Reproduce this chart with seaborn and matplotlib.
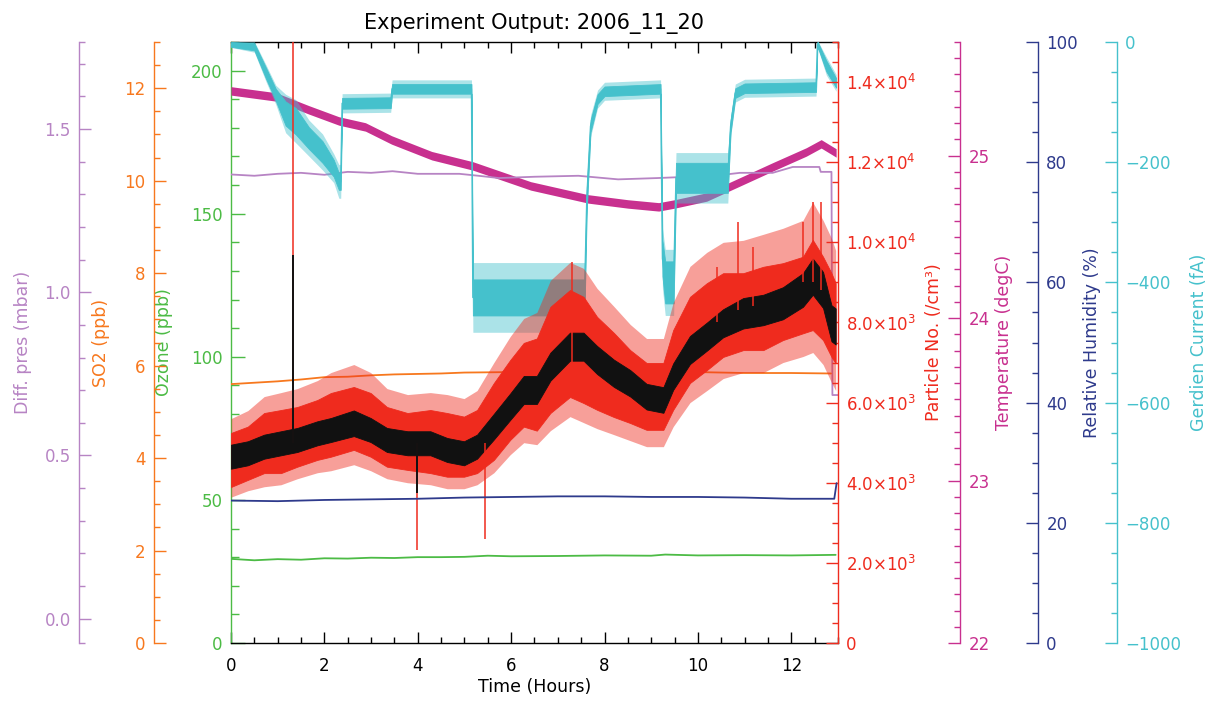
import numpy as np
import matplotlib
matplotlib.use("Agg")
import matplotlib.pyplot as plt
import seaborn as sns
from matplotlib.ticker import MultipleLocator, FixedLocator, FuncFormatter

# ---------------- data ----------------
title = "Experiment Output: 2006_11_20"
x_label = "Time (Hours)"

# Ozone (ppb)
t_ozone = [0.0, 0.5, 1.0, 1.5, 2.0, 2.5, 3.0, 3.5, 4.0, 4.5, 5.0, 5.5, 6.0, 7.0, 8.0, 9.0, 9.3, 10.0, 11.0, 12.0, 12.95]
ozone = [29.4, 28.9, 29.3, 29.1, 29.6, 29.5, 29.8, 29.7, 30.0, 30.0, 30.1, 30.5, 30.3, 30.4, 30.6, 30.5, 30.9, 30.6, 30.7, 30.6, 30.8]

# SO2 (ppb)
t_so2 = [0.0, 0.5, 1.0, 1.5, 2.0, 2.5, 3.0, 3.5, 4.0, 4.5, 5.0, 6.0, 7.0, 8.0, 9.0, 10.0, 11.0, 12.0, 12.85]
so2 = [5.60, 5.63, 5.66, 5.70, 5.75, 5.76, 5.79, 5.81, 5.82, 5.83, 5.85, 5.86, 5.86, 5.85, 5.84, 5.86, 5.84, 5.84, 5.83]

# Relative humidity (%)
t_rh = [0.0, 1.0, 2.0, 3.0, 4.0, 5.0, 6.0, 7.0, 8.0, 9.0, 10.0, 11.0, 12.0, 12.92, 12.97]
rh = [23.7, 23.6, 23.8, 23.9, 24.0, 24.2, 24.3, 24.4, 24.4, 24.3, 24.3, 24.2, 24.0, 24.0, 26.6]

# Differential pressure (mbar)
t_dp = [0.0, 0.5, 1.0, 1.5, 2.0, 2.5, 3.0, 3.46, 4.0, 4.89, 5.3, 5.74, 6.5, 7.44, 8.29, 9.13,
        9.8, 10.54, 10.9, 11.6, 12.03, 12.6, 12.63, 12.86, 12.88, 13.0]
dp = [1.361, 1.357, 1.363, 1.366, 1.360, 1.369, 1.366, 1.371, 1.363, 1.363, 1.357, 1.350, 1.354, 1.357,
      1.346, 1.350, 1.354, 1.360, 1.366, 1.366, 1.384, 1.384, 1.369, 1.369, 0.685, 0.685]

# Temperature (degC): centre of the noisy band and its half width
t_temp = [0.0, 0.96, 1.67, 2.31, 2.88, 3.44, 4.3, 5.18, 6.42, 7.65, 8.5, 9.16, 9.5, 10.19, 10.9, 11.6, 12.32, 12.64, 12.96]
temp = [25.399, 25.362, 25.282, 25.214, 25.177, 25.097, 25.0, 24.937, 24.814, 24.734, 24.703, 24.685,
        24.703, 24.746, 24.839, 24.931, 25.023, 25.073, 25.017]
temp_hw = 0.026

# Gerdien current (fA): centre, dense half width and spike half width
t_gc = [0.0, 0.5, 0.75, 0.96, 1.17, 1.39, 1.67, 1.96, 2.20, 2.31, 2.35, 2.38, 3.42, 3.45, 5.15, 5.18,
        7.57, 7.62, 7.70, 7.85, 8.0, 9.20, 9.24, 9.30, 9.48, 9.53, 10.64, 10.70, 10.80, 11.0, 12.53,
        12.56, 12.75, 12.96]
gc_mid = [-4, -8, -52, -88, -119, -132, -160, -183, -210, -232, -232, -102, -101, -78, -78, -425,
          -425, -260, -140, -95, -82, -78, -360, -400, -400, -226, -226, -140, -85, -77, -75,
          -3, -40, -68]
gc_hw = [4, 6, 9, 10, 20, 22, 18, 18, 14, 14, 14, 9, 9, 8, 8, 30,
         30, 18, 10, 8, 8, 8, 30, 35, 35, 25, 25, 10, 8, 8, 8,
         4, 9, 8]
gc_tip = [5, 9, 14, 16, 32, 36, 30, 30, 24, 28, 28, 16, 16, 15, 15, 58,
          58, 30, 18, 15, 15, 15, 50, 55, 55, 42, 42, 18, 15, 15, 15,
          6, 15, 14]

# Particle number (/cm3): raw envelope (red), spike extent, smoothed band (black)
t_pn = [0.0, 0.36, 0.71, 1.07, 1.42, 1.85, 2.14, 2.63, 2.99, 3.34, 3.78, 4.27, 4.63, 4.99, 5.27,
        5.63, 5.98, 6.27, 6.55, 6.84, 7.26, 7.55, 7.84, 8.2, 8.55, 8.9, 9.26, 9.47, 9.83, 10.19,
        10.54, 10.97, 11.4, 11.82, 12.25, 12.46, 12.68, 12.86, 12.95]
pn_lo = [3894, 4070, 4240, 4240, 4400, 4570, 4650, 4820, 4650, 4400, 4320, 4240, 4150, 4150, 4240,
         4570, 5070, 5400, 5300, 5740, 6140, 5990, 5820, 5640, 5490, 5320, 5320, 5820, 6490, 6810,
         7140, 7310, 7310, 7560, 7730, 7810, 7560, 7140, 6980]
pn_hi = [5242, 5400, 5740, 5815, 5890, 6065, 6240, 6390, 6240, 5890, 5740, 5815, 5740, 5650, 5815,
         6490, 7064, 7490, 7600, 8390, 8810, 8640, 8140, 7740, 7310, 6990, 6990, 7810, 8640, 8980,
         9230, 9230, 9390, 9480, 9640, 10060, 9640, 9230, 8980]
pn_tip_lo = [3640, 3800, 3900, 3950, 4100, 4250, 4300, 4450, 4300, 4100, 4000, 3950, 3850, 3850, 3950,
             4250, 4700, 5000, 4950, 5300, 5650, 5500, 5350, 5200, 5050, 4900, 4900, 5400, 6000, 6300,
             6600, 6750, 6750, 7000, 7150, 7250, 6950, 6500, 6300]
pn_tip_hi = [5600, 5800, 6150, 6250, 6350, 6550, 6750, 6950, 6750, 6350, 6200, 6250, 6200, 6100, 6300,
             7000, 7650, 8100, 8250, 9050, 9500, 9350, 8850, 8400, 7950, 7600, 7600, 8500, 9400, 9750,
             10000, 10050, 10200, 10350, 10550, 11000, 10550, 10100, 9800]
pn_mean = [4650, 4735, 4900, 4985, 5067, 5234, 5316, 5484, 5316, 5067, 4985, 4985, 4817, 4735, 4900,
           5400, 5898, 6315, 6315, 6897, 7396, 7396, 7064, 6732, 6482, 6148, 6065, 6648, 7313, 7645,
           7980, 8229, 8312, 8479, 8811, 9143, 8811, 7980, 7900]
pn_spread = [300, 300, 300, 300, 300, 300, 300, 320, 300, 300, 300, 300, 300, 300, 300,
             320, 330, 350, 350, 350, 350, 350, 350, 340, 330, 320, 320, 330, 350, 350,
             350, 380, 380, 400, 420, 450, 450, 450, 450]
red_spike_t = [1.32, 3.98, 5.45, 7.30, 10.40, 10.86, 11.18, 12.25, 12.46, 12.63]
red_spike_lo = [5000, 2321, 2596, 7000, 8000, 8300, 8400, 9000, 9000, 8800]
red_spike_hi = [16000, 5000, 5000, 9500, 9385, 10508, 9885, 10508, 11000, 11000]
blk_spike_t = [1.32, 3.98]
blk_spike_lo = [5000, 3744]
blk_spike_hi = [9685, 5000]

# ---------------- style ----------------
sns.set_theme(style="white")
plt.rcParams["font.family"] = ["DejaVu Sans"]
plt.rcParams["mathtext.default"] = "regular"
plt.rcParams["axes.linewidth"] = 1.0

c_dp = "#b784c4"
c_so2 = "#f7781e"
c_o3 = "#4cbb45"
c_pn = "#ef2b1e"
c_temp = "#c8308f"
c_rh = "#2e3a8c"
c_gc = "#45c1cc"

W, H = 1211, 704
fig = plt.figure(figsize=(W / 100, H / 100), dpi=100)
L, R, T, B = 231, 838, 42, 643
ax = fig.add_axes([L / W, 1 - B / H, (R - L) / W, (B - T) / H])
ax.set_zorder(0)
ax.set_facecolor("white")


def twin(side, pos, color, z, lab_x, label):
    a = ax.twinx()
    a.set_zorder(z)
    a.patch.set_visible(False)
    for s in a.spines.values():
        s.set_visible(False)
    sp = a.spines[side]
    sp.set_visible(True)
    sp.set_position(("axes", pos))
    sp.set_color(color)
    sp.set_linewidth(1.0)
    if side == "left":
        a.yaxis.tick_left()
        a.yaxis.set_label_position("left")
    else:
        a.yaxis.tick_right()
        a.yaxis.set_label_position("right")
    a.tick_params(axis="y", which="both", direction="in", colors=color, labelsize=12, pad=6)
    a.tick_params(axis="y", which="major", length=8.5, width=1)
    a.tick_params(axis="y", which="minor", length=4.5, width=1)
    a._lab = (label, color, lab_x)
    return a


def finish_label(a):
    label, color, lab_x = a._lab
    a.set_ylabel(label, color=color, fontsize=12.5)
    a.yaxis.set_label_coords(lab_x, 0.5)


ax_temp = twin("right", (960 - L) / (R - L), c_temp, 1, 1.2586, "Temperature (degC)")
ax_dp = twin("left", (79 - L) / (R - L), c_dp, 2, -0.328, "Diff. pres (mbar)")
ax_gc = twin("right", (1117 - L) / (R - L), c_gc, 3, 1.580, "Gerdien Current (fA)")
ax_so2 = twin("left", (154 - L) / (R - L), c_so2, 4, -0.199, "SO2 (ppb)")
ax_pn = twin("right", 1.0, c_pn, 5, 1.1433, "Particle No. (/cm³)")
ax_rh = twin("right", (1038 - L) / (R - L), c_rh, 6, 1.4036, "Relative Humidity (%)")

# ---------------- data drawing ----------------
sns.lineplot(x=t_ozone, y=ozone, ax=ax, color=c_o3, lw=1.3, estimator=None, sort=False, legend=False)

temp_arr = np.array(temp)
ax_temp.fill_between(t_temp, temp_arr - temp_hw, temp_arr + temp_hw, color=c_temp, lw=0)

sns.lineplot(x=t_dp, y=dp, ax=ax_dp, color=c_dp, lw=1.3, estimator=None, sort=False, legend=False)

gcm = np.array(gc_mid)
ax_gc.fill_between(t_gc, gcm - np.array(gc_tip), gcm + np.array(gc_tip), color=c_gc, alpha=0.45, lw=0)
ax_gc.fill_between(t_gc, gcm - np.array(gc_hw), gcm + np.array(gc_hw), color=c_gc, lw=0.6, edgecolor=c_gc)
sns.lineplot(x=t_gc, y=gc_mid, ax=ax_gc, color=c_gc, lw=1.0, estimator=None, sort=False, legend=False)

sns.lineplot(x=t_so2, y=so2, ax=ax_so2, color=c_so2, lw=1.3, estimator=None, sort=False, legend=False)

ax_pn.fill_between(t_pn, pn_tip_lo, pn_tip_hi, color=c_pn, alpha=0.45, lw=0)
ax_pn.fill_between(t_pn, pn_lo, pn_hi, color=c_pn, lw=0.6, edgecolor=c_pn)
ax_pn.vlines(red_spike_t, red_spike_lo, red_spike_hi, color=c_pn, lw=1.1)
pm = np.array(pn_mean)
ps = np.array(pn_spread)
ax_pn.fill_between(t_pn, pm - ps, pm + ps, color="#111111", lw=0.6, edgecolor="#111111")
ax_pn.vlines(blk_spike_t, blk_spike_lo, blk_spike_hi, color="#111111", lw=1.4)

sns.lineplot(x=t_rh, y=rh, ax=ax_rh, color=c_rh, lw=1.3, estimator=None, sort=False, legend=False)

# ---------------- axes ----------------
ax.set_xlim(0, 13)
ax.set_ylim(0, 210)
ax.spines["right"].set_visible(False)
ax.spines["left"].set_color(c_o3)
ax.spines["top"].set_color("black")
ax.spines["bottom"].set_color("black")
ax.xaxis.set_major_locator(MultipleLocator(2))
ax.xaxis.set_minor_locator(MultipleLocator(0.5))
ax.yaxis.set_major_locator(MultipleLocator(50))
ax.yaxis.set_minor_locator(MultipleLocator(10))
ax.tick_params(axis="x", which="both", direction="in", top=True, bottom=True, colors="black",
               labelsize=12, pad=10)
ax.tick_params(axis="x", which="major", length=8, width=1)
ax.tick_params(axis="x", which="minor", length=4, width=1)
ax.tick_params(axis="y", which="both", direction="in", left=True, right=False, colors=c_o3,
               labelsize=12, pad=6)
ax.tick_params(axis="y", which="major", length=10, width=1)
ax.tick_params(axis="y", which="minor", length=5.5, width=1)
ax.set_xlabel(x_label, fontsize=12.5, labelpad=2, color="black")
ax.set_ylabel("Ozone (ppb)", color=c_o3, fontsize=12.5)
ax.yaxis.set_label_coords(-0.0955, 0.5)
ax.set_title(title, fontsize=15, pad=9, color="black")

ax_dp.set_ylim(-0.075, 1.767)
ax_dp.yaxis.set_major_locator(MultipleLocator(0.5))
ax_dp.yaxis.set_minor_locator(FixedLocator(list(np.arange(0.0, 1.75, 0.1)) + [-0.075, 1.767]))
ax_dp.yaxis.set_major_formatter(FuncFormatter(lambda v, p: f"{v:.1f}"))

ax_so2.set_ylim(0, 13)
ax_so2.yaxis.set_major_locator(MultipleLocator(2))
ax_so2.yaxis.set_minor_locator(MultipleLocator(0.5))

ax_pn.set_ylim(0, 15000)
ax_pn.yaxis.set_major_locator(MultipleLocator(2000))
ax_pn.yaxis.set_minor_locator(MultipleLocator(500))


def sci_fmt(v, pos):
    if abs(v) < 1e-9:
        return "0"
    e = int(np.floor(np.log10(abs(v))))
    m = v / 10 ** e
    return rf"${m:.1f}{{\times}}10^{{{e}}}$"


ax_pn.yaxis.set_major_formatter(FuncFormatter(sci_fmt))

ax_temp.set_ylim(22, 25.7)
ax_temp.yaxis.set_major_locator(MultipleLocator(1))
ax_temp.yaxis.set_minor_locator(MultipleLocator(0.1))

ax_rh.set_ylim(0, 100)
ax_rh.yaxis.set_major_locator(MultipleLocator(20))
ax_rh.yaxis.set_minor_locator(MultipleLocator(5))

ax_gc.set_ylim(-1000, 0)
ax_gc.yaxis.set_major_locator(MultipleLocator(200))
ax_gc.yaxis.set_minor_locator(MultipleLocator(50))

for a in (ax_temp, ax_dp, ax_gc, ax_so2, ax_pn, ax_rh):
    a.set_xlim(0, 13)
    finish_label(a)

fig.savefig("out.png", dpi=100)
